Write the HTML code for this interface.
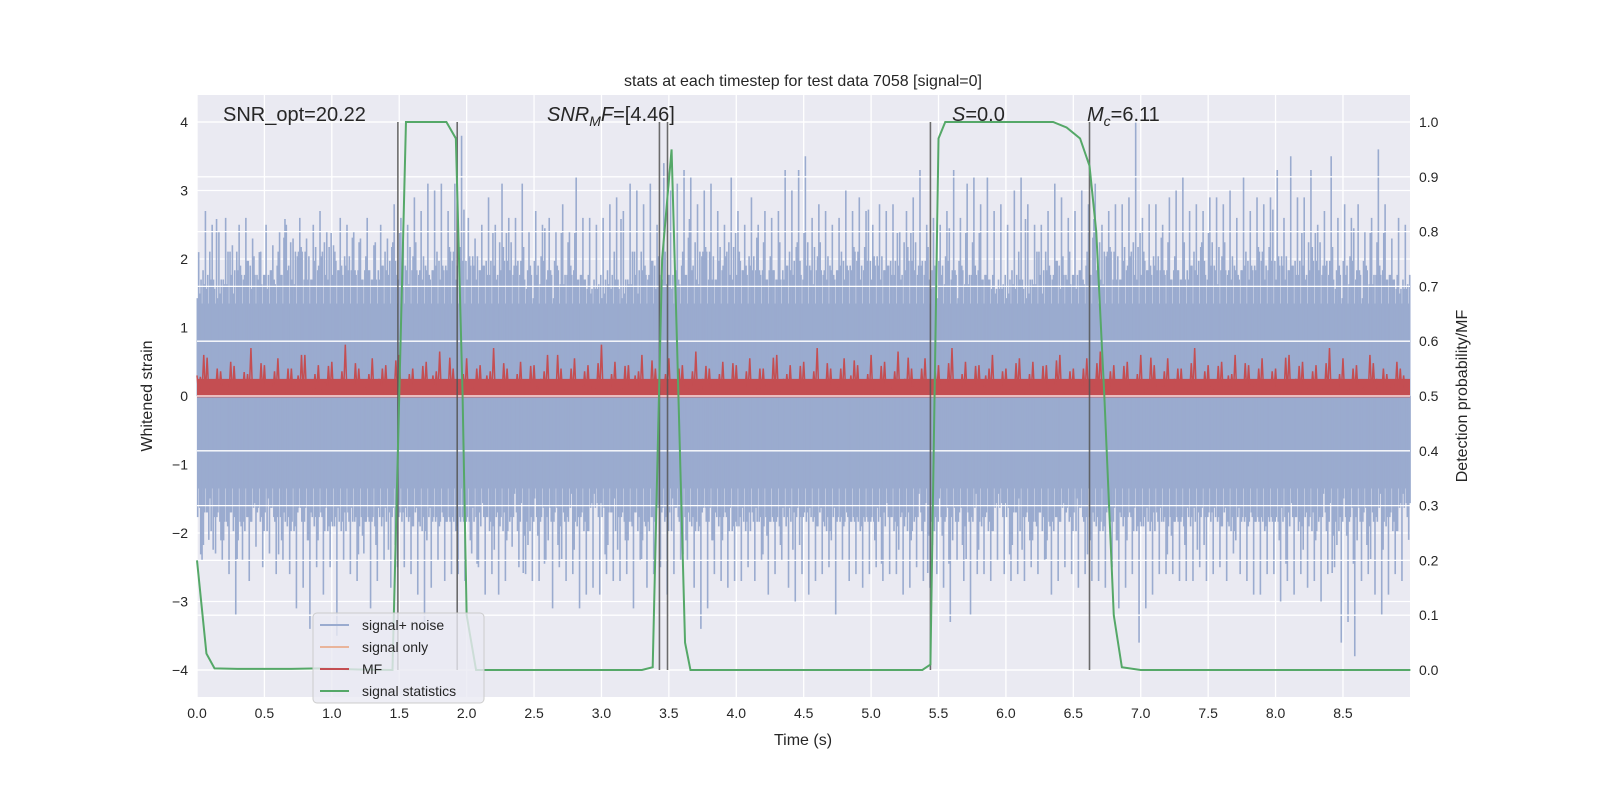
<!DOCTYPE html>
<html><head><meta charset="utf-8"><style>
body{margin:0;background:#fff;}
svg text{font-family:"Liberation Sans","DejaVu Sans",sans-serif;fill:#262626;}
</style></head><body>
<svg id="c" width="1600" height="800" xmlns="http://www.w3.org/2000/svg">
<rect x="197" y="95" width="1213" height="602" fill="#eaeaf2"/>
<g id="grid1"></g><g id="noise"></g><g id="mf"></g><g id="grid2"></g><g id="vlines"></g><g id="stat"></g><g id="axes"></g>
<text x="803" y="86" font-size="16" text-anchor="middle">stats at each timestep for test data 7058 [signal=0]</text>
<text x="223" y="121" font-size="20">SNR_opt=20.22</text>
<text x="547" y="121" font-size="20"><tspan font-style="italic">SNR</tspan><tspan font-style="italic" font-size="14" dy="5">M</tspan><tspan font-style="italic" dy="-5">F</tspan>=[4.46]</text>
<text x="952" y="121" font-size="20"><tspan font-style="italic">S</tspan>=0.0</text>
<text x="1087" y="121" font-size="20"><tspan font-style="italic">M</tspan><tspan font-style="italic" font-size="14" dy="5">c</tspan><tspan dy="-5">=6.11</tspan></text>
<text x="803" y="745" font-size="16" text-anchor="middle">Time (s)</text>
<text transform="translate(152,396) rotate(-90)" font-size="16" text-anchor="middle">Whitened strain</text>
<text transform="translate(1467,396) rotate(-90)" font-size="16" text-anchor="middle">Detection probability/MF</text>
<g>
<rect x="313" y="613" width="171" height="90" rx="4" fill="#eaeaf2" fill-opacity="0.8" stroke="#ccc"/>
<line x1="320" y1="625" x2="349" y2="625" stroke="#9aabcf" stroke-width="2"/>
<text x="362" y="630" font-size="14">signal+ noise</text>
<line x1="320" y1="647" x2="349" y2="647" stroke="#e9b49a" stroke-width="2"/>
<text x="362" y="652" font-size="14">signal only</text>
<line x1="320" y1="669" x2="349" y2="669" stroke="#c44e52" stroke-width="2"/>
<text x="362" y="674" font-size="14">MF</text>
<line x1="320" y1="691" x2="349" y2="691" stroke="#55a868" stroke-width="2"/>
<text x="362" y="696" font-size="14">signal statistics</text>
</g>
</svg>
<script>
const xTicks=[0,0.5,1,1.5,2,2.5,3,3.5,4,4.5,5,5.5,6,6.5,7,7.5,8,8.5];
const yTicks=[-4,-3,-2,-1,0,1,2,3,4];
const y2Ticks=[0,0.1,0.2,0.3,0.4,0.5,0.6,0.7,0.8,0.9,1.0];
const noiseTop=[2.1,2.7,2.5,2.4,2.6,2.2,2.5,2.6,2.3,2.1,2.5,2.2,2.4,2.5,2.3,2.6,2.3,2.5,2.7,2.4,
2.2,2.6,2.5,2.4,2.3,2.6,2.2,2.5,2.3,2.8,2.6,2.5,2.9,2.7,3.1,3.0,3.1,2.7,3.1,3.8,
2.6,2.3,2.5,2.9,2.5,3.1,2.6,2.6,3.1,2.4,2.7,2.5,2.6,2.4,2.8,2.4,3.2,2.6,2.6,2.5,
2.6,2.8,2.9,2.7,3.1,3.0,2.8,3.1,2.5,3.4,3.0,3.1,3.3,3.2,2.8,3.0,3.1,2.7,2.5,3.2,
2.7,2.5,2.9,2.5,2.7,2.6,2.7,3.3,3.0,3.3,3.5,2.6,2.8,2.7,2.5,2.6,3.0,2.7,2.9,2.7,
2.5,2.8,2.7,2.8,2.4,2.7,2.9,3.3,2.5,2.6,2.5,2.7,3.3,2.6,3.1,3.2,2.8,3.2,2.7,2.8,
2.5,3.0,3.2,2.8,2.5,2.5,2.7,3.1,2.9,2.6,2.7,3.0,2.8,3.1,2.5,2.7,2.8,2.8,2.9,4.0,
2.6,2.8,2.8,2.5,2.9,3.0,3.2,2.7,2.8,2.7,2.9,2.9,2.8,3.0,2.6,3.2,2.7,2.9,2.8,2.9,
3.3,2.6,3.5,2.9,2.9,3.3,2.5,2.7,3.5,2.6,2.8,2.6,2.8,2.4,2.6,3.6,2.8,2.3,2.6,2.5];
const noiseBottom=[-2.4,-2.1,-2.3,-2.4,-2.6,-3.2,-2.4,-2.7,-2.2,-2.5,-2.3,-2.6,-2.4,-2.6,-3.1,-2.8,-3.4,-2.5,-2.9,-2.5,
-3.5,-2.4,-2.6,-2.7,-2.3,-3.1,-2.7,-2.4,-2.8,-2.5,-2.5,-2.6,-2.9,-3.3,-2.8,-2.4,-2.7,-2.6,-2.6,-2.7,
-2.3,-2.5,-2.9,-2.6,-2.9,-2.7,-2.2,-2.5,-2.6,-2.7,-2.7,-2.4,-3.1,-2.5,-2.7,-2.6,-3.1,-2.9,-2.8,-2.9,
-2.6,-2.7,-2.7,-2.6,-3.1,-2.4,-2.8,-2.6,-2.5,-2.9,-2.6,-2.4,-2.4,-2.8,-3.4,-3.1,-2.6,-2.7,-2.8,-2.7,
-2.7,-2.5,-2.7,-2.4,-2.9,-2.6,-2.4,-2.8,-3.0,-2.6,-2.9,-2.7,-2.6,-2.5,-3.2,-2.4,-2.7,-2.6,-2.8,-2.6,
-2.5,-2.7,-2.6,-2.6,-2.9,-2.8,-2.5,-2.7,-2.8,-2.6,-2.8,-3.3,-2.4,-2.7,-3.2,-2.6,-2.6,-2.7,-2.4,-2.6,
-2.7,-2.6,-2.7,-2.5,-2.6,-2.4,-2.9,-2.7,-2.5,-2.6,-2.8,-2.6,-2.7,-2.7,-2.8,-2.5,-3.1,-2.8,-2.6,-3.6,
-3.1,-2.9,-2.6,-2.6,-2.6,-2.7,-2.7,-2.7,-2.5,-2.7,-2.6,-2.5,-2.7,-2.3,-2.6,-2.7,-2.9,-2.9,-2.6,-2.6,
-3.0,-2.7,-2.9,-2.6,-2.8,-2.7,-3.0,-2.6,-2.5,-3.6,-3.3,-3.8,-2.7,-2.6,-2.9,-3.2,-2.9,-2.6,-2.7,-2.1];
const mfVals=[0.3,0.6,0.1,0.4,0.2,0.5,0.1,0.35,0.7,0.15,0.45,0.2,0.55,0.05,0.4,0.3,0.6,0.1,0.45,0.2,
0.5,0.15,0.75,0.2,0.4,0.1,0.55,0.25,0.45,0.1,0.6,0.2,0.4,0.05,0.5,0.3,0.65,0.15,0.4,0.2,
0.55,0.1,0.45,0.3,0.7,0.1,0.4,0.2,0.5,0.05,0.45,0.25,0.6,0.1,0.4,0.2,0.55,0.15,0.45,0.1,
0.75,0.2,0.5,0.1,0.45,0.3,0.6,0.05,0.4,0.2,0.55,0.15,0.45,0.1,0.65,0.25,0.4,0.1,0.5,0.2,
0.45,0.1,0.55,0.2,0.4,0.05,0.6,0.25,0.45,0.1,0.5,0.2,0.7,0.15,0.4,0.1,0.55,0.3,0.45,0.05,
0.6,0.2,0.5,0.1,0.65,0.25,0.4,0.1,0.55,0.2,0.45,0.05,0.7,0.2,0.5,0.1,0.45,0.3,0.6,0.15,
0.4,0.1,0.55,0.2,0.5,0.05,0.45,0.25,0.6,0.1,0.4,0.2,0.55,0.15,0.65,0.1,0.45,0.2,0.5,0.1,
0.6,0.2,0.45,0.05,0.55,0.25,0.4,0.1,0.7,0.2,0.45,0.1,0.5,0.3,0.6,0.05,0.45,0.2,0.55,0.15,
0.4,0.1,0.6,0.25,0.5,0.1,0.45,0.2,0.7,0.05,0.55,0.2,0.45,0.1,0.6,0.25,0.4,0.1,0.5,0.3];
const statT=[0,0.07,0.13,0.3,0.7,0.9,1.2,1.45,1.5,1.55,1.85,1.92,1.97,2.0,2.07,3.3,3.38,3.45,3.52,3.56,3.62,3.66,5.38,5.44,5.5,5.55,6.35,6.45,6.55,6.62,6.67,6.73,6.8,6.86,7.0,9.0];
const statV=[0.2,0.03,0.003,0.002,0.002,0.003,0.001,0.0,0.5,1.0,1.0,0.97,0.5,0.1,0.0,0.0,0.005,0.75,0.95,0.6,0.05,0.0,0.0,0.01,0.97,1.0,1.0,0.99,0.97,0.92,0.8,0.5,0.1,0.005,0.0,0.0];
const detLines=[1.49,1.93,3.43,3.49,5.44,6.62];
const NS="http://www.w3.org/2000/svg";
const X=t=>197+t*134.82, Y=v=>396-v*68.5, Y2=p=>670-p*548;
function mk(tag,attrs,parent){const e=document.createElementNS(NS,tag);for(const k in attrs)e.setAttribute(k,attrs[k]);document.getElementById(parent).appendChild(e);return e;}
yTicks.forEach(v=>{const l=mk('line',{x1:197,x2:1410,y1:Y(v),y2:Y(v),stroke:'#fff','stroke-width':1.3},'grid1');


const t=mk('text',{x:188,y:Y(v)+5,'font-size':14,'text-anchor':'end'},'axes');t.textContent=(v<0?'\u2212'+(-v):v);

});
xTicks.forEach(v=>{const l=mk('line',{x1:X(v),x2:X(v),y1:95,y2:697,stroke:'#fff','stroke-width':1.3},'grid1');


const t=mk('text',{x:X(v),y:718,'font-size':14,'text-anchor':'middle'},'axes');t.textContent=v.toFixed(1);

});
const core=mk('rect',{x:197,y:Y(1.35),width:1213,height:Y(-1.35)-Y(1.35),fill:'#9aabcf'},'noise');


const n=noiseTop.length, dt=9/n;
noiseTop.forEach((v,i)=>{const t=i*dt;
const a=mk('line',{x1:X(t+dt*0.25),x2:X(t+dt*0.25),y1:Y(0),y2:Y(v),stroke:'#9aabcf','stroke-width':1.6},'noise');


const b=mk('line',{x1:X(t+dt*0.75),x2:X(t+dt*0.75),y1:Y(0),y2:Y(noiseBottom[i]),stroke:'#9aabcf','stroke-width':1.6},'noise');


[0.05,0.45,0.6,0.9].forEach((f,k)=>{const j=(i*3+k*11)%n;
const c=mk('line',{x1:X(t+dt*f),x2:X(t+dt*f),y1:Y(0),y2:Y(noiseTop[j]*0.68),stroke:'#9aabcf','stroke-width':1.6},'noise');


const d=mk('line',{x1:X(t+dt*(1-f)),x2:X(t+dt*(1-f)),y1:Y(0),y2:Y(noiseBottom[(j+5)%n]*0.68),stroke:'#9aabcf','stroke-width':1.6},'noise');

});});
const mb=mk('rect',{x:197,y:Y(0.25),width:1213,height:Y(-0.02)-Y(0.25),fill:'#c44e52'},'mf');


const m=mfVals.length, pts=[];
mfVals.forEach((v,i)=>{const t=i*9/m;pts.push(X(t)+','+Y(v));pts.push(X(t+4.5/m*0.5)+','+Y(0.02));pts.push(X(t+4.5/m)+','+Y(mfVals[(i+7)%m]*0.8));pts.push(X(t+4.5/m*1.5)+','+Y(0.05));});
const mp=mk('polyline',{points:pts.join(' '),fill:'none',stroke:'#c44e52','stroke-width':1.5},'mf');


y2Ticks.forEach(v=>{const l=mk('line',{x1:197,x2:1410,y1:Y2(v),y2:Y2(v),stroke:'#fff','stroke-width':1.3},'grid2');


const t=mk('text',{x:1419,y:Y2(v)+5,'font-size':14},'axes');t.textContent=v.toFixed(1);

});
detLines.forEach(t=>{const l=mk('line',{x1:X(t),x2:X(t),y1:Y2(1),y2:Y2(0),stroke:'#555','stroke-width':1.6,'stroke-opacity':0.85},'vlines');

});
const sp=mk('polyline',{points:statT.map((t,i)=>X(t)+','+Y2(statV[i])).join(' '),fill:'none',stroke:'#55a868','stroke-width':2},'stat');


</script>
</body></html>
